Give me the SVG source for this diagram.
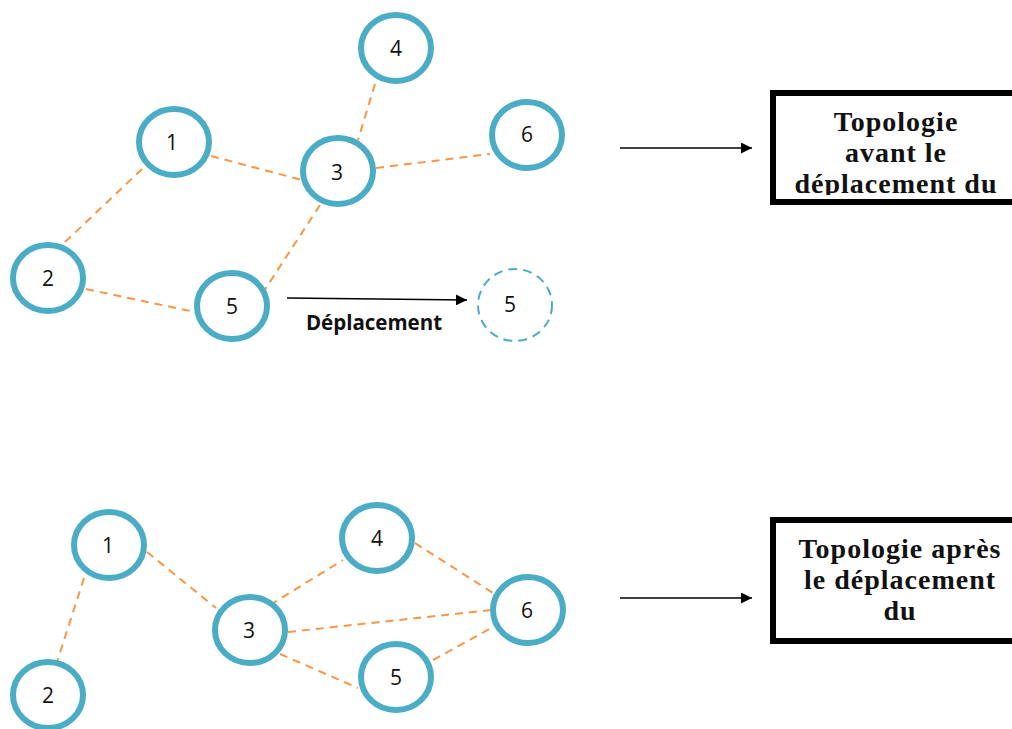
<svg xmlns="http://www.w3.org/2000/svg" width="1012" height="729" viewBox="0 0 1012 729">
  <style>
    .node { fill: #ffffff; stroke: #4bacc6; stroke-width: 6; }
    .ghost { fill: none; stroke: #4bacc6; stroke-width: 2; stroke-dasharray: 9 6; }
    .num { font-family: "Open Sans", "Liberation Sans", sans-serif; font-size: 21px; fill: #111; text-anchor: middle; dominant-baseline: central; }
    .link { stroke: #f79646; stroke-width: 2; stroke-dasharray: 8 6; fill: none; }
    .arrow { stroke: #000; stroke-width: 1.5; fill: none; }
    .panel { fill: #ffffff; stroke: none; }
    .frame { fill: none; stroke: #000; stroke-width: 6; }
    .cap { font-family: "Liberation Serif", serif; font-weight: bold; font-size: 28px; letter-spacing: 1px; fill: #111; text-anchor: middle; }
    .move { font-family: "Open Sans", "DejaVu Sans", sans-serif; font-weight: bold; font-size: 20.5px; fill: #111; text-anchor: middle; }
  </style>
  <defs>
    <marker id="head" viewBox="0 0 10 10" refX="10" refY="5" markerWidth="11" markerHeight="11" markerUnits="userSpaceOnUse" orient="auto">
      <path d="M0,0 L10,5 L0,10 z" fill="#000"/>
    </marker>
    <!-- the first caption's last line runs into the frame's bottom edge -->
    <clipPath id="capClip">
      <rect x="776" y="96" width="240" height="99"/>
    </clipPath>
  </defs>
  <rect width="1012" height="729" fill="#ffffff"/>

  <!-- links -->
  <g id="connectors">
    <!-- before -->
    <line class="link" x1="142" y1="169" x2="62" y2="245"/>
    <line class="link" x1="211" y1="156" x2="302" y2="180"/>
    <line class="link" x1="375" y1="84" x2="358" y2="140"/>
    <line class="link" x1="376" y1="168" x2="490" y2="154"/>
    <line class="link" x1="320" y1="205" x2="264" y2="291"/>
    <line class="link" x1="86" y1="289" x2="195" y2="312"/>
    <line class="arrow" x1="287" y1="298" x2="467" y2="300" marker-end="url(#head)"/>
    <line class="arrow" x1="620" y1="148" x2="752" y2="148" marker-end="url(#head)"/>
    <!-- after -->
    <line class="link" x1="84" y1="578" x2="57" y2="662"/>
    <line class="link" x1="147" y1="552" x2="216" y2="608"/>
    <line class="link" x1="270" y1="605" x2="343" y2="560"/>
    <line class="link" x1="288" y1="632" x2="491" y2="610"/>
    <line class="link" x1="280" y1="654" x2="358" y2="688"/>
    <line class="link" x1="415" y1="543" x2="493" y2="593"/>
    <line class="link" x1="433" y1="660" x2="493" y2="627"/>
    <line class="arrow" x1="620" y1="598" x2="752" y2="598" marker-end="url(#head)"/>
  </g>

  <!-- before the move -->
  <g id="top-n1"><ellipse class="node" cx="174" cy="142" rx="35" ry="33"/><text class="num" x="172" y="142">1</text></g>
  <g id="top-n2"><ellipse class="node" cx="48" cy="278" rx="35" ry="33"/><text class="num" x="48" y="278">2</text></g>
  <g id="top-n3"><ellipse class="node" cx="338" cy="171" rx="35" ry="33"/><text class="num" x="337" y="172">3</text></g>
  <g id="top-n4"><ellipse class="node" cx="396" cy="48" rx="35" ry="33"/><text class="num" x="396" y="48">4</text></g>
  <g id="top-n5"><ellipse class="node" cx="232" cy="306" rx="35" ry="33"/><text class="num" x="232" y="306">5</text></g>
  <g id="top-n6"><ellipse class="node" cx="527" cy="135" rx="35" ry="33"/><text class="num" x="527" y="134">6</text></g>
  <g id="top-n5-moved"><ellipse class="ghost" cx="515" cy="305" rx="37" ry="36"/><text class="num" x="510" y="304">5</text></g>
  <g id="move-label"><text class="move" x="374" y="330">Déplacement</text></g>

  <g id="caption-before">
    <rect class="panel" x="773" y="93" width="245" height="109"/>
    <g clip-path="url(#capClip)">
      <text class="cap" x="896" y="131">Topologie</text>
      <text class="cap" x="896" y="162">avant le</text>
      <text class="cap" x="896" y="193">déplacement du</text>
    </g>
    <rect class="frame" x="773" y="93" width="245" height="109"/>
  </g>

  <!-- after the move -->
  <g id="bot-n1"><ellipse class="node" cx="109" cy="545" rx="35" ry="33"/><text class="num" x="108" y="545">1</text></g>
  <g id="bot-n2"><ellipse class="node" cx="48" cy="695" rx="35" ry="33"/><text class="num" x="48" y="695">2</text></g>
  <g id="bot-n3"><ellipse class="node" cx="250" cy="630" rx="35" ry="33"/><text class="num" x="249" y="630">3</text></g>
  <g id="bot-n4"><ellipse class="node" cx="377" cy="538" rx="35" ry="33"/><text class="num" x="377" y="538">4</text></g>
  <g id="bot-n5"><ellipse class="node" cx="396" cy="677" rx="35" ry="33"/><text class="num" x="396" y="677">5</text></g>
  <g id="bot-n6"><ellipse class="node" cx="528" cy="610" rx="35" ry="33"/><text class="num" x="527" y="610">6</text></g>

  <g id="caption-after">
    <rect class="panel" x="773" y="520" width="245" height="121"/>
    <text class="cap" x="900" y="558">Topologie après</text>
    <text class="cap" x="900" y="589">le déplacement</text>
    <text class="cap" x="900" y="620">du</text>
    <rect class="frame" x="773" y="520" width="245" height="121"/>
  </g>
</svg>
